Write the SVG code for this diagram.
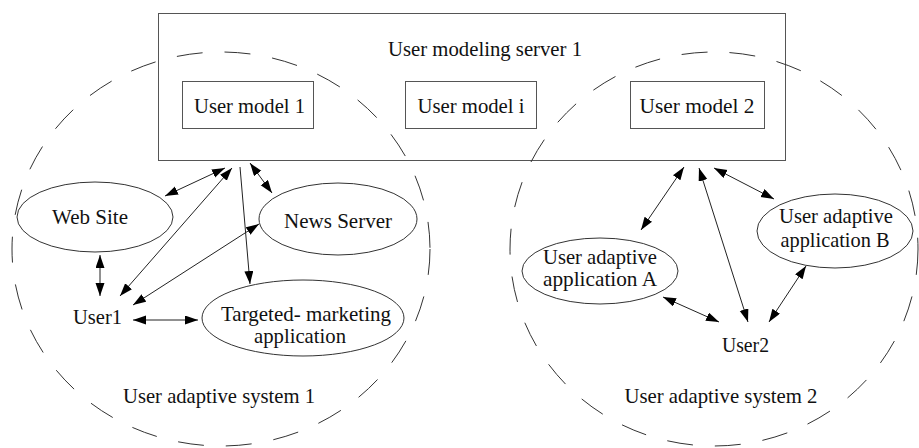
<svg xmlns="http://www.w3.org/2000/svg" width="919" height="448" viewBox="0 0 919 448">
  <style>
    .bg { fill: #ffffff; }
    .box { fill: none; stroke: #555555; stroke-width: 1; }
    .node { fill: #ffffff; stroke: #333333; stroke-width: 1; }
    .region { fill: none; stroke: #333333; stroke-width: 1; stroke-dasharray: 26 22; }
    .lbl { font-family: "Liberation Serif", "Times New Roman", serif; font-size: 21px; fill: #111111; text-anchor: middle; }
    .edge { fill: none; stroke: #222222; stroke-width: 1; }
    .bi { marker-start: url(#ah); marker-end: url(#ah); }
    .uni { marker-end: url(#ah); }
  </style>
  <defs>
    <marker id="ah" markerUnits="userSpaceOnUse" markerWidth="14" markerHeight="10" refX="13" refY="4.5" orient="auto-start-reverse">
      <path d="M0,0 L13,4.5 L0,9 Z" fill="#000000"/>
    </marker>
  </defs>

  <rect class="bg" x="0" y="0" width="919" height="448"/>

  <!-- user modeling server -->
  <g id="server">
    <rect class="box" x="158.5" y="13.5" width="627" height="147"/>
    <text class="lbl" x="485" y="56" textLength="194" lengthAdjust="spacingAndGlyphs">User modeling server 1</text>
  </g>
  <g id="model1">
    <rect class="box" x="182.5" y="81.5" width="131" height="47"/>
    <text class="lbl" x="249.5" y="113" textLength="111" lengthAdjust="spacingAndGlyphs">User model 1</text>
  </g>
  <g id="modeli">
    <rect class="box" x="405.5" y="81.5" width="131" height="47"/>
    <text class="lbl" x="471" y="113" textLength="107" lengthAdjust="spacingAndGlyphs">User model i</text>
  </g>
  <g id="model2">
    <rect class="box" x="630.5" y="81.5" width="134" height="47"/>
    <text class="lbl" x="697" y="113" textLength="115" lengthAdjust="spacingAndGlyphs">User model 2</text>
  </g>

  <!-- adaptive system regions -->
  <g id="system1">
    <ellipse class="region" cx="221" cy="249" rx="209" ry="197"/>
    <text class="lbl" x="219" y="403" textLength="192" lengthAdjust="spacingAndGlyphs">User adaptive system 1</text>
  </g>
  <g id="system2">
    <ellipse class="region" cx="714" cy="249" rx="204" ry="197"/>
    <text class="lbl" x="721" y="403" textLength="193" lengthAdjust="spacingAndGlyphs">User adaptive system 2</text>
  </g>

  <!-- system 1 nodes -->
  <g id="website">
    <ellipse class="node" cx="95" cy="217" rx="78" ry="35"/>
    <text class="lbl" x="90" y="224" textLength="76" lengthAdjust="spacingAndGlyphs">Web Site</text>
  </g>
  <g id="newsserver">
    <ellipse class="node" cx="338" cy="219" rx="79" ry="36"/>
    <text class="lbl" x="338" y="228" textLength="108" lengthAdjust="spacingAndGlyphs">News Server</text>
  </g>
  <g id="targeted">
    <ellipse class="node" cx="303" cy="318" rx="101" ry="38"/>
    <text class="lbl" x="306" y="321" textLength="170" lengthAdjust="spacingAndGlyphs">Targeted- marketing</text>
    <text class="lbl" x="300" y="343" textLength="92" lengthAdjust="spacingAndGlyphs">application</text>
  </g>
  <g id="user1">
    <text class="lbl" x="97.5" y="324" textLength="49" lengthAdjust="spacingAndGlyphs">User1</text>
  </g>

  <!-- system 2 nodes -->
  <g id="appA">
    <ellipse class="node" cx="600" cy="271" rx="78" ry="33"/>
    <text class="lbl" x="600" y="264" textLength="114" lengthAdjust="spacingAndGlyphs">User adaptive</text>
    <text class="lbl" x="600" y="286" textLength="114" lengthAdjust="spacingAndGlyphs">application A</text>
  </g>
  <g id="appB">
    <ellipse class="node" cx="835" cy="231" rx="78" ry="37"/>
    <text class="lbl" x="836" y="223" textLength="114" lengthAdjust="spacingAndGlyphs">User adaptive</text>
    <text class="lbl" x="835" y="247" textLength="109" lengthAdjust="spacingAndGlyphs">application B</text>
  </g>
  <g id="user2">
    <text class="lbl" x="745.5" y="352" textLength="47" lengthAdjust="spacingAndGlyphs">User2</text>
  </g>

  <!-- connectors -->
  <g id="connectors">
    <line class="edge bi" x1="165" y1="196" x2="225" y2="168"/>
    <line class="edge bi" x1="120" y1="296" x2="232" y2="168"/>
    <line class="edge uni" x1="240" y1="167" x2="250" y2="284"/>
    <line class="edge bi" x1="250" y1="163" x2="272" y2="193"/>
    <line class="edge bi" x1="259" y1="224" x2="133" y2="305"/>
    <line class="edge bi" x1="100" y1="255" x2="100" y2="296"/>
    <line class="edge bi" x1="133" y1="320" x2="198" y2="320"/>

    <line class="edge bi" x1="641" y1="230" x2="684" y2="167"/>
    <line class="edge bi" x1="699" y1="168" x2="748" y2="322"/>
    <line class="edge bi" x1="714" y1="168" x2="774" y2="199"/>
    <line class="edge bi" x1="663" y1="297" x2="719" y2="322"/>
    <line class="edge bi" x1="806" y1="266" x2="769" y2="322"/>
  </g>
</svg>
